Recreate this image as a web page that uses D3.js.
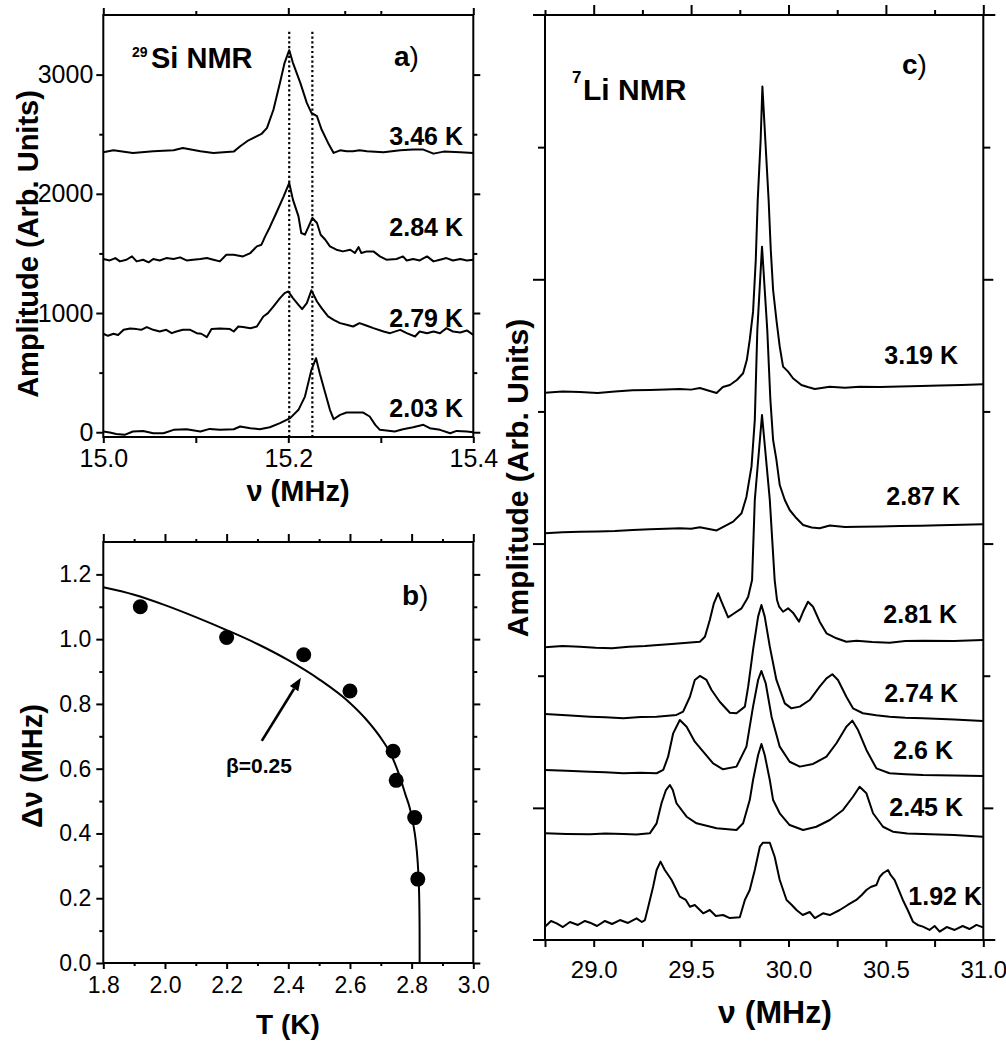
<!DOCTYPE html>
<html><head><meta charset="utf-8">
<script src="https://cdn.jsdelivr.net/npm/d3@7"></script>
<style>
body{margin:0;background:#fff}
svg{display:block}
text{font-family:"Liberation Sans",Arial,Helvetica,sans-serif;fill:#000}
</style></head>
<body><svg id="fig" width="1006" height="1042"></svg>
<script>
// ---------- Panel a: 29Si NMR spectra [nu (MHz), amplitude] ----------
const siTemps = ["3.46 K", "2.84 K", "2.79 K", "2.03 K"];
const si346 = [[15.000,2348],[15.011,2365],[15.032,2343],[15.054,2357],[15.076,2365],[15.086,2385],[15.105,2357],[15.119,2343],[15.141,2354],[15.148,2399],[15.157,2449],[15.171,2502],[15.177,2553],[15.184,2707],[15.191,2931],[15.196,3099],[15.201,3205],[15.205,3099],[15.213,2931],[15.220,2763],[15.225,2679],[15.231,2651],[15.236,2539],[15.243,2427],[15.249,2343],[15.256,2365],[15.263,2357],[15.270,2357],[15.277,2365],[15.285,2357],[15.303,2348],[15.321,2365],[15.335,2371],[15.346,2371],[15.357,2337],[15.368,2354],[15.386,2348],[15.400,2343]];
const si284 = [[15.000,1453],[15.007,1441],[15.013,1461],[15.018,1433],[15.025,1447],[15.031,1475],[15.036,1433],[15.043,1447],[15.049,1425],[15.054,1453],[15.061,1441],[15.068,1461],[15.076,1453],[15.083,1467],[15.090,1441],[15.097,1447],[15.105,1453],[15.112,1461],[15.119,1447],[15.126,1433],[15.133,1489],[15.141,1489],[15.151,1475],[15.159,1503],[15.166,1559],[15.171,1573],[15.175,1643],[15.180,1720],[15.187,1839],[15.195,1979],[15.201,2091],[15.205,1951],[15.211,1811],[15.214,1671],[15.218,1657],[15.222,1727],[15.226,1797],[15.231,1755],[15.235,1657],[15.240,1615],[15.245,1559],[15.252,1531],[15.259,1517],[15.267,1531],[15.272,1503],[15.276,1553],[15.279,1503],[15.285,1517],[15.292,1517],[15.299,1475],[15.306,1447],[15.317,1453],[15.324,1475],[15.328,1441],[15.335,1453],[15.342,1441],[15.350,1475],[15.357,1433],[15.364,1447],[15.371,1461],[15.378,1441],[15.386,1453],[15.393,1441],[15.400,1447]];
const si279 = [[15.000,826],[15.005,809],[15.011,826],[15.016,815],[15.022,859],[15.029,870],[15.036,865],[15.041,859],[15.047,882],[15.054,859],[15.061,845],[15.068,859],[15.074,831],[15.079,845],[15.086,859],[15.094,859],[15.101,831],[15.106,826],[15.112,798],[15.117,865],[15.126,870],[15.137,865],[15.141,845],[15.146,887],[15.151,882],[15.159,873],[15.166,887],[15.173,971],[15.178,999],[15.184,1055],[15.191,1125],[15.196,1167],[15.200,1181],[15.205,1125],[15.211,1069],[15.215,1033],[15.220,1083],[15.225,1190],[15.231,1097],[15.236,1041],[15.243,971],[15.249,943],[15.256,915],[15.263,901],[15.270,887],[15.277,915],[15.285,893],[15.292,873],[15.303,845],[15.310,831],[15.321,859],[15.328,831],[15.337,803],[15.342,845],[15.350,831],[15.357,845],[15.364,831],[15.371,873],[15.378,845],[15.386,837],[15.393,854],[15.400,817]];
const si203 = [[15.000,6],[15.007,-3],[15.014,-14],[15.023,-22],[15.032,6],[15.043,11],[15.054,-8],[15.065,-8],[15.076,20],[15.090,25],[15.105,6],[15.115,28],[15.126,20],[15.141,25],[15.148,48],[15.159,34],[15.169,25],[15.180,42],[15.191,76],[15.202,118],[15.211,188],[15.218,299],[15.225,523],[15.230,621],[15.234,495],[15.240,327],[15.245,188],[15.249,109],[15.256,146],[15.263,165],[15.270,165],[15.281,165],[15.288,132],[15.294,62],[15.299,20],[15.306,14],[15.315,6],[15.324,25],[15.335,42],[15.346,62],[15.353,34],[15.364,20],[15.375,-8],[15.382,11],[15.393,6],[15.400,0]];
const siMarkNu = [15.201, 15.226];
const aXMajor = [15.0, 15.2, 15.4];
const aXMinorBottom = [15.1, 15.3];
const aXMinorTop = [15.1, 15.261, 15.3];
const aYMajor = [0, 1000, 2000, 3000];
const aYMinor = [500, 1500, 2500];

// ---------- Panel b: splitting vs temperature ----------
const bT = [1.92, 2.20, 2.45, 2.60, 2.74, 2.75, 2.81, 2.82];
const bDnu = [1.100, 1.005, 0.952, 0.840, 0.654, 0.564, 0.449, 0.259];
const bFitT = [1.80, 1.90, 2.00, 2.10, 2.20, 2.30, 2.40, 2.50, 2.60, 2.65, 2.70, 2.735, 2.76, 2.78, 2.795, 2.805, 2.813, 2.819, 2.823, 2.825, 2.8258, 2.826];
const bFitDnu = [1.160, 1.137, 1.105, 1.068, 1.028, 0.985, 0.935, 0.876, 0.803, 0.755, 0.695, 0.640, 0.580, 0.520, 0.475, 0.430, 0.380, 0.320, 0.250, 0.180, 0.100, 0.0];
const bArrowFrom = [2.314, 0.686];
const bArrowTo = [2.441, 0.881];
const bXMajor = [1.8, 2.0, 2.2, 2.4, 2.6, 2.8, 3.0];
const bXMinor = [1.9, 2.1, 2.3, 2.5, 2.7, 2.9];
const bYMajor = [0.0, 0.2, 0.4, 0.6, 0.8, 1.0, 1.2];
const bYMinor = [0.1, 0.3, 0.5, 0.7, 0.9, 1.1];

// ---------- Panel c: 7Li NMR spectra [nu (MHz), amplitude] ----------
const liTemps = ["3.19 K", "2.87 K", "2.81 K", "2.74 K", "2.6 K", "2.45 K", "1.92 K"];
const li319 = [[28.750,4.142],[28.840,4.150],[28.929,4.147],[29.020,4.140],[29.109,4.151],[29.200,4.160],[29.288,4.162],[29.370,4.166],[29.442,4.170],[29.500,4.165],[29.545,4.177],[29.596,4.155],[29.631,4.140],[29.663,4.185],[29.699,4.200],[29.735,4.238],[29.767,4.289],[29.786,4.389],[29.801,4.541],[29.818,4.753],[29.832,5.146],[29.842,5.600],[29.857,6.054],[29.866,6.458],[29.881,6.054],[29.898,5.600],[29.909,5.222],[29.921,4.919],[29.938,4.692],[29.955,4.490],[29.972,4.339],[29.998,4.301],[30.023,4.251],[30.066,4.200],[30.099,4.185],[30.135,4.170],[30.212,4.187],[30.290,4.180],[30.365,4.187],[30.470,4.185],[30.571,4.189],[30.680,4.192],[30.776,4.196],[30.890,4.200],[30.998,4.205]];
const li287 = [[28.750,3.078],[28.840,3.085],[28.929,3.090],[29.020,3.092],[29.109,3.095],[29.200,3.103],[29.288,3.108],[29.370,3.112],[29.442,3.116],[29.500,3.112],[29.545,3.123],[29.631,3.099],[29.663,3.125],[29.716,3.166],[29.759,3.229],[29.784,3.353],[29.810,3.582],[29.827,3.935],[29.840,4.616],[29.864,5.247],[29.891,4.616],[29.907,4.087],[29.921,3.784],[29.938,3.633],[29.955,3.443],[29.981,3.330],[30.006,3.254],[30.041,3.191],[30.075,3.141],[30.119,3.122],[30.160,3.116],[30.212,3.137],[30.290,3.125],[30.365,3.128],[30.470,3.130],[30.571,3.133],[30.680,3.135],[30.776,3.138],[30.890,3.142],[30.998,3.146]];
const li281 = [[28.750,2.215],[28.840,2.225],[28.929,2.220],[29.010,2.212],[29.094,2.208],[29.180,2.220],[29.263,2.225],[29.330,2.232],[29.401,2.240],[29.480,2.250],[29.545,2.257],[29.571,2.295],[29.596,2.422],[29.617,2.548],[29.639,2.624],[29.656,2.560],[29.690,2.442],[29.716,2.467],[29.759,2.510],[29.784,2.573],[29.793,2.598],[29.813,2.724],[29.827,3.330],[29.864,3.973],[29.904,3.330],[29.929,2.724],[29.941,2.573],[29.952,2.522],[29.972,2.484],[29.998,2.510],[30.023,2.477],[30.054,2.409],[30.075,2.484],[30.100,2.560],[30.126,2.522],[30.160,2.409],[30.195,2.321],[30.246,2.283],[30.297,2.257],[30.350,2.265],[30.430,2.255],[30.519,2.250],[30.600,2.262],[30.690,2.265],[30.850,2.262],[30.998,2.270]];
const li274 = [[28.750,1.710],[28.860,1.700],[28.981,1.690],[29.060,1.685],[29.152,1.678],[29.240,1.688],[29.323,1.690],[29.425,1.703],[29.459,1.728],[29.494,1.841],[29.519,1.968],[29.545,1.998],[29.579,1.968],[29.605,1.892],[29.647,1.803],[29.699,1.720],[29.733,1.716],[29.776,1.766],[29.793,1.917],[29.818,2.195],[29.844,2.447],[29.861,2.535],[29.878,2.447],[29.904,2.220],[29.938,1.968],[29.981,1.791],[30.015,1.753],[30.058,1.766],[30.109,1.816],[30.160,1.917],[30.195,1.980],[30.225,2.011],[30.254,1.968],[30.297,1.841],[30.331,1.753],[30.382,1.716],[30.450,1.700],[30.519,1.690],[30.600,1.682],[30.690,1.678],[30.850,1.668],[30.998,1.657]];
const li260 = [[28.750,1.287],[28.860,1.280],[28.981,1.274],[29.060,1.270],[29.152,1.262],[29.240,1.266],[29.323,1.262],[29.357,1.287],[29.382,1.387],[29.408,1.564],[29.442,1.665],[29.477,1.614],[29.519,1.501],[29.562,1.425],[29.613,1.337],[29.664,1.292],[29.733,1.312],[29.784,1.463],[29.818,1.766],[29.844,1.968],[29.861,2.036],[29.883,1.943],[29.913,1.690],[29.955,1.463],[30.006,1.349],[30.058,1.312],[30.126,1.332],[30.195,1.387],[30.246,1.489],[30.297,1.614],[30.328,1.660],[30.357,1.589],[30.400,1.438],[30.451,1.299],[30.519,1.262],[30.600,1.255],[30.690,1.249],[30.850,1.245],[30.998,1.241]];
const li245 = [[28.750,0.807],[28.860,0.803],[28.981,0.800],[29.060,0.806],[29.152,0.802],[29.220,0.798],[29.288,0.807],[29.323,0.883],[29.348,1.035],[29.371,1.135],[29.391,1.173],[29.406,1.135],[29.425,1.035],[29.477,0.933],[29.528,0.883],[29.631,0.845],[29.733,0.832],[29.767,0.883],[29.801,1.059],[29.818,1.211],[29.844,1.400],[29.861,1.483],[29.878,1.400],[29.904,1.211],[29.921,1.059],[29.955,0.959],[30.006,0.870],[30.075,0.832],[30.143,0.857],[30.212,0.908],[30.280,0.984],[30.331,1.084],[30.365,1.160],[30.400,1.110],[30.434,0.959],[30.485,0.857],[30.536,0.820],[30.610,0.806],[30.690,0.802],[30.850,0.795],[30.998,0.782]];
const li192 = [[28.750,0.101],[28.781,0.144],[28.810,0.126],[28.842,0.098],[28.878,0.136],[28.919,0.114],[28.955,0.144],[28.981,0.131],[29.017,0.106],[29.058,0.144],[29.094,0.121],[29.135,0.151],[29.176,0.129],[29.220,0.164],[29.247,0.136],[29.263,0.151],[29.280,0.252],[29.305,0.403],[29.323,0.530],[29.343,0.593],[29.365,0.530],[29.400,0.454],[29.442,0.328],[29.473,0.303],[29.494,0.252],[29.519,0.265],[29.562,0.202],[29.596,0.227],[29.627,0.182],[29.664,0.189],[29.699,0.166],[29.750,0.172],[29.776,0.303],[29.801,0.378],[29.827,0.530],[29.853,0.706],[29.869,0.736],[29.904,0.736],[29.929,0.630],[29.955,0.454],[29.990,0.303],[30.017,0.265],[30.041,0.227],[30.073,0.189],[30.109,0.212],[30.135,0.166],[30.177,0.202],[30.212,0.189],[30.263,0.227],[30.304,0.265],[30.348,0.303],[30.376,0.341],[30.400,0.378],[30.422,0.401],[30.451,0.416],[30.468,0.477],[30.485,0.505],[30.511,0.530],[30.524,0.492],[30.545,0.454],[30.587,0.303],[30.612,0.227],[30.639,0.138],[30.663,0.114],[30.690,0.101],[30.724,0.076],[30.750,0.106],[30.776,0.063],[30.812,0.098],[30.853,0.076],[30.894,0.106],[30.929,0.083],[30.965,0.114],[30.998,0.096]];
const cXMajor = [29.0, 29.5, 30.0, 30.5, 31.0];
const cXMinor = [28.75, 29.25, 29.75, 30.25, 30.75];
const cYMajor = [1, 3, 5];
const cYMinor = [2, 4, 6];

// ---------- drawing ----------
const svg = d3.select("#fig");
const FONT = '"Liberation Sans", Arial, Helvetica, sans-serif';

function addAxis(gen, tx, ty, values, size, fmt, fontSize, pad) {
  const a = gen.tickValues(values).tickSize(size).tickSizeOuter(0)
    .tickPadding(pad || 3).tickFormat(fmt || (() => ""));
  const g = svg.append("g").attr("transform", `translate(${tx},${ty})`).call(a);
  g.attr("font-family", null).attr("font-size", null);
  g.select(".domain").remove();
  g.selectAll(".tick line").attr("stroke", "#000").attr("stroke-width", 2);
  g.selectAll(".tick text").attr("font-size", fontSize || 24).attr("fill", "#000").attr("font-family", FONT);
  return g;
}
function frame(x, y) {
  svg.append("rect").attr("x", x.range()[0]).attr("y", y.range()[1])
    .attr("width", x.range()[1] - x.range()[0]).attr("height", y.range()[0] - y.range()[1])
    .attr("fill", "none").attr("stroke", "#000").attr("stroke-width", 2);
}
function label(x, y, txt, size, anchor, weight) {
  return svg.append("text").attr("x", x).attr("y", y).attr("font-size", size)
    .attr("text-anchor", anchor || "start").attr("font-weight", weight || "bold").text(txt);
}
function panelLetter(x, y, letter, size) {
  const t = svg.append("text").attr("x", x).attr("y", y).attr("font-size", size);
  t.append("tspan").attr("font-weight", "bold").text(letter);
  t.append("tspan").attr("font-weight", "normal").text(")");
}

// ===== Panel a =====
const xa = d3.scaleLinear().domain([15.0, 15.4]).range([103.3, 473.3]);
const ya = d3.scaleLinear().domain([-40, 3500]).range([437, 15]);
const fmt1 = d => d.toFixed(1);
addAxis(d3.axisBottom(xa), 0, 437, [...aXMajor, ...aXMinorBottom], 6,
  d => aXMajor.some(v => Math.abs(v - d) < 1e-9) ? d.toFixed(1) : "", 25, 6);
addAxis(d3.axisTop(xa), 0, 15, aXMajor, 7);
addAxis(d3.axisTop(xa), 0, 15, aXMinorTop, 4);
addAxis(d3.axisLeft(ya), 103.3, 0, aYMajor, 7, d => String(d), 25, 3);
addAxis(d3.axisLeft(ya), 103.3, 0, aYMinor, 4);
addAxis(d3.axisRight(ya), 473.3, 0, aYMajor, 7);
addAxis(d3.axisRight(ya), 473.3, 0, aYMinor, 4);
frame(xa, ya);

const lineA = d3.line().x(d => xa(d[0])).y(d => ya(d[1]));
[si346, si284, si279, si203].forEach(s => {
  svg.append("path").datum(s).attr("d", lineA).attr("fill", "none")
    .attr("stroke", "#000").attr("stroke-width", 2).attr("stroke-linejoin", "round");
});
siMarkNu.forEach(v => {
  svg.append("line").attr("x1", xa(v)).attr("x2", xa(v)).attr("y1", ya(3360)).attr("y2", ya(-40))
    .attr("stroke", "#000").attr("stroke-width", 2.2).attr("stroke-dasharray", "2.2,2.6");
});
const siLabelY = [145, 236, 327, 417];
siTemps.forEach((t, i) => label(463, siLabelY[i], t, 25, "end"));
label(132, 57, "29", 14);
label(151, 68, "Si NMR", 29);
panelLetter(394, 66, "a", 28);
svg.append("text").attr("transform", "translate(38,244) rotate(-90)").attr("text-anchor", "middle")
  .attr("font-size", 29).attr("font-weight", "bold").text("Amplitude (Arb. Units)");
label(298, 501, "\u03bd (MHz)", 29, "middle");

// ===== Panel b =====
const xb = d3.scaleLinear().domain([1.8, 3.0]).range([103.3, 473.3]);
const yb = d3.scaleLinear().domain([0, 1.3]).range([963, 542]);
addAxis(d3.axisBottom(xb), 0, 963, bXMajor, 6, fmt1, 23, 8);
addAxis(d3.axisBottom(xb), 0, 963, bXMinor, 3);
addAxis(d3.axisTop(xb), 0, 542, bXMajor, 8);
addAxis(d3.axisTop(xb), 0, 542, bXMinor, 3);
addAxis(d3.axisLeft(yb), 103.3, 0, bYMajor, 7, fmt1, 23, 5);
addAxis(d3.axisLeft(yb), 103.3, 0, bYMinor, 4);
addAxis(d3.axisRight(yb), 473.3, 0, bYMajor, 7);
addAxis(d3.axisRight(yb), 473.3, 0, bYMinor, 4);
frame(xb, yb);

const fit = bFitT.map((t, i) => [t, bFitDnu[i]]);
svg.append("path").datum(fit)
  .attr("d", d3.line().x(d => xb(d[0])).y(d => yb(d[1])).curve(d3.curveMonotoneX))
  .attr("fill", "none").attr("stroke", "#000").attr("stroke-width", 2);
svg.append("g").selectAll("circle").data(bT.map((t, i) => [t, bDnu[i]])).join("circle")
  .attr("cx", d => xb(d[0])).attr("cy", d => yb(d[1])).attr("r", 7.5).attr("fill", "#000");
// arrow
{
  const x0 = xb(bArrowFrom[0]), y0 = yb(bArrowFrom[1]);
  const x1 = xb(bArrowTo[0]), y1 = yb(bArrowTo[1]);
  const ang = Math.atan2(y1 - y0, x1 - x0);
  const L = 13, W = 5;
  const bx = x1 - L * Math.cos(ang), by = y1 - L * Math.sin(ang);
  svg.append("line").attr("x1", x0).attr("y1", y0).attr("x2", bx).attr("y2", by)
    .attr("stroke", "#000").attr("stroke-width", 2.6);
  const px = -Math.sin(ang) * W, py = Math.cos(ang) * W;
  svg.append("path").attr("d", `M${x1},${y1}L${bx + px},${by + py}L${bx - px},${by - py}Z`).attr("fill", "#000");
}
label(259, 773, "\u03b2=0.25", 21, "middle");
panelLetter(402, 605, "b", 28);
svg.append("text").attr("transform", "translate(42,766) rotate(-90)").attr("text-anchor", "middle")
  .attr("font-size", 29).attr("font-weight", "bold").text("\u0394\u03bd (MHz)");
label(288, 1034, "T (K)", 28, "middle");

// ===== Panel c =====
const xc = d3.scaleLinear().domain([28.75, 31.0]).range([545, 983.3]);
const yc = d3.scaleLinear().domain([0, 7]).range([940, 15]);
addAxis(d3.axisBottom(xc), 0, 940, [...cXMinor, ...cXMajor], 7,
  d => cXMajor.some(v => Math.abs(v - d) < 1e-9) ? d.toFixed(1) : "", 24, 14);
addAxis(d3.axisTop(xc), 0, 15, cXMajor, 10);
addAxis(d3.axisTop(xc), 0, 15, cXMinor, 5);
addAxis(d3.axisLeft(yc), 545, 0, cYMajor, 12);
addAxis(d3.axisLeft(yc), 545, 0, cYMinor, 7);
addAxis(d3.axisRight(yc), 983.3, 0, cYMajor, 10);
addAxis(d3.axisRight(yc), 983.3, 0, cYMinor, 7);
frame(xc, yc);
[0, 7].forEach(v => {
  svg.append("line").attr("x1", xc.range()[0] - 12).attr("x2", xc.range()[1] + 12)
    .attr("y1", yc(v)).attr("y2", yc(v)).attr("stroke", "#000").attr("stroke-width", 2);
});
const lineC = d3.line().x(d => xc(d[0])).y(d => yc(d[1]));
[li319, li287, li281, li274, li260, li245, li192].forEach(s => {
  svg.append("path").datum(s).attr("d", lineC).attr("fill", "none")
    .attr("stroke", "#000").attr("stroke-width", 2).attr("stroke-linejoin", "round");
});
const liLabelX = [958, 960, 957, 958, 953, 963, 982];
const liLabelY = [364, 505, 623, 702, 759, 816, 905];
liTemps.forEach((t, i) => label(liLabelX[i], liLabelY[i], t, 25, "end"));
label(572, 83, "7", 17);
label(583, 100, "Li NMR", 30);
panelLetter(902, 74, "c", 28);
svg.append("text").attr("transform", "translate(528,478) rotate(-90)").attr("text-anchor", "middle")
  .attr("font-size", 30).attr("font-weight", "bold").text("Amplitude (Arb. Units)");
label(775, 1023, "\u03bd (MHz)", 32, "middle");
</script>
</body></html>
